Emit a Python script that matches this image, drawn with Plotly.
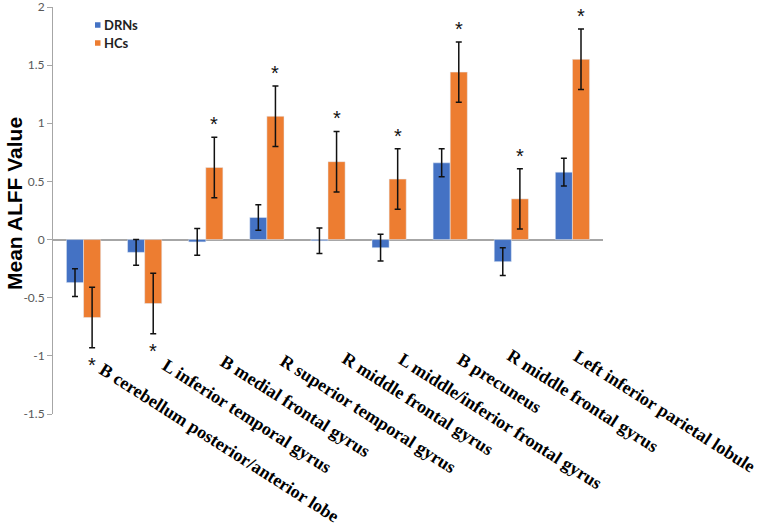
import plotly.graph_objects as go

regions = ["B cerebellum posterior/anterior lobe", "L inferior temporal gyrus",
           "B medial frontal gyrus", "R superior temporal gyrus", "R middle frontal gyrus",
           "L middle/inferior frontal gyrus", "B precuneus", "R middle frontal gyrus",
           "Left inferior parietal lobule"]
drns_mean = [-0.37, -0.11, -0.02, 0.19, -0.01, -0.07, 0.66, -0.19, 0.58]
drns_err = [0.12, 0.11, 0.115, 0.11, 0.11, 0.115, 0.12, 0.12, 0.12]
hcs_mean = [-0.67, -0.55, 0.62, 1.06, 0.67, 0.52, 1.44, 0.35, 1.55]
hcs_err = [0.26, 0.26, 0.26, 0.26, 0.26, 0.26, 0.26, 0.26, 0.26]
significant = [True] * 9
ytick_vals = [2, 1.5, 1, 0.5, 0, -0.5, -1, -1.5]
ytick_text = ["2", "1.5", "1", "0.5", "0", "-0.5", "-1", "-1.5"]

BLUE = "#4472C4"
ORANGE = "#ED7D31"

W, H = 762, 532
L, R, T, B = 53, 159, 7, 118
PW, PH = W - L - R, H - T - B

def px_x(p):
    return (p - L) / PW

def px_y(p):
    return (H - B - p) / PH

idx = list(range(len(regions)))
bw = 0.28

fig = go.Figure()
fig.add_trace(go.Bar(x=idx, y=drns_mean, width=bw, offset=-bw, marker_color=BLUE, name="DRNs",
                     error_y=dict(type="data", array=drns_err, color="#111", thickness=1.5, width=3),
                     showlegend=False))
fig.add_trace(go.Bar(x=idx, y=hcs_mean, width=bw, offset=0, marker_color=ORANGE, name="HCs",
                     error_y=dict(type="data", array=hcs_err, color="#111", thickness=1.5, width=3),
                     showlegend=False))

annotations = []
shapes = []
# significance asterisks
for i, (m, e, s) in enumerate(zip(hcs_mean, hcs_err, significant)):
    if not s:
        continue
    if m >= 0:
        annotations.append(dict(x=i + bw / 2, y=m + e, xref="x", yref="y", text="*",
                                showarrow=False, yanchor="bottom", yshift=0,
                                font=dict(family="Liberation Sans", size=20, color="#111")))
    else:
        annotations.append(dict(x=i + bw / 2, y=m - e, xref="x", yref="y", text="*",
                                showarrow=False, yanchor="top", yshift=-4,
                                font=dict(family="Liberation Sans", size=20, color="#111")))

# rotated region labels (start point of each label, in pixels)
label_start_x = [99, 162, 220, 280, 342, 398, 457, 507, 573]
label_start_y = [369, 364, 360, 360, 358, 358, 358, 355, 355]
for name, sx, sy in zip(regions, label_start_x, label_start_y):
    annotations.append(dict(x=px_x(sx - 6), y=px_y(sy - 12), xref="paper", yref="paper",
                            text="<b>" + name + "</b>", showarrow=False, textangle=32.5,
                            xanchor="left", yanchor="top",
                            font=dict(family="Liberation Serif", size=18, color="#000")))

# y-axis title
annotations.append(dict(x=px_x(15), y=px_y(204), xref="paper", yref="paper",
                        text="<b>Mean ALFF Value</b>", showarrow=False, textangle=-90,
                        xanchor="center", yanchor="middle",
                        font=dict(family="Liberation Sans", size=21, color="#000")))

# legend (small squares + bold text)
for k, (name, col) in enumerate([("DRNs", BLUE), ("HCs", ORANGE)]):
    cy = 25 + 18 * k
    shapes.append(dict(type="rect", xref="paper", yref="paper",
                       x0=px_x(95), x1=px_x(100.5), y0=px_y(cy + 2.75), y1=px_y(cy - 2.75),
                       fillcolor=col, line=dict(width=0)))
    annotations.append(dict(x=px_x(102), y=px_y(cy), xref="paper", yref="paper",
                            text="<b>" + name + "</b>", showarrow=False,
                            xanchor="left", yanchor="middle",
                            font=dict(family="Lato", size=13, color="#222")))

fig.update_layout(
    width=W, height=H,
    margin=dict(l=L, r=R, t=T, b=B, autoexpand=False),
    paper_bgcolor="white", plot_bgcolor="white",
    barmode="overlay",
    showlegend=False,
    annotations=annotations,
    shapes=shapes,
    xaxis=dict(range=[-0.5, len(regions) - 0.5], showticklabels=False, showgrid=False,
               zeroline=False, showline=False, ticks="", automargin=False),
    yaxis=dict(range=[-1.5, 2], tickvals=ytick_vals, ticktext=ytick_text,
               showgrid=False, zeroline=True, zerolinecolor="#A6A6A6", zerolinewidth=1.5,
               showline=True, linecolor="#A6A6A6", linewidth=1, ticks="outside",
               ticklen=5, tickcolor="#A6A6A6", ticklabeloverflow="allow", automargin=False,
               tickfont=dict(family="Lato", size=12, color="#595959")),
)

fig.write_html("out.html", config={"displayModeBar": False},
               post_script="document.body.style.margin='0';")
